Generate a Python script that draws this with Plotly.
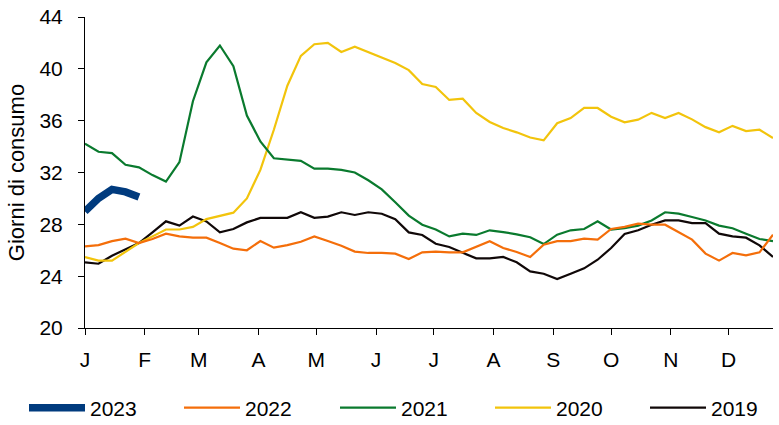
import plotly.graph_objects as go

# Weekly data (52 weeks), x = day of year at week start
weeks = list(range(52))
month_ticks_days = [0, 31, 59, 90, 120, 151, 181, 212, 243, 273, 304, 334]
month_labels = ["J", "F", "M", "A", "M", "J", "J", "A", "S", "O", "N", "D"]

y2023 = [29.0, 30.0, 30.7, 30.5, 30.1]

y2022 = [26.3, 26.4, 26.7, 26.9, 26.56, 26.87, 27.28, 27.07, 26.97, 26.97,
         26.56, 26.12, 26.0, 26.71, 26.2, 26.4, 26.66, 27.07, 26.71, 26.35,
         25.9, 25.79, 25.79, 25.74, 25.32, 25.84, 25.9, 25.84, 25.84, 26.3,
         26.7, 26.17, 25.87, 25.48, 26.43, 26.7, 26.7, 26.9, 26.82, 27.64,
         27.8, 28.05, 27.97, 27.97, 27.38, 26.82, 25.74, 25.2, 25.79, 25.6,
         25.84, 27.2]

y2021 = [34.23, 33.6, 33.5, 32.6, 32.4, 31.8, 31.3, 32.8, 37.5, 40.5,
         41.8, 40.2, 36.4, 34.4, 33.1, 33.0, 32.9, 32.3, 32.3, 32.2,
         32.0, 31.4, 30.7, 29.7, 28.67, 27.97, 27.6, 27.07, 27.28, 27.18,
         27.54, 27.4, 27.23, 27.0, 26.48, 27.2, 27.54, 27.64, 28.23, 27.6,
         27.7, 27.9, 28.3, 28.93, 28.82, 28.57, 28.3, 27.9, 27.7, 27.28,
         26.87, 26.7]

y2020 = [25.48, 25.2, 25.2, 25.9, 26.56, 27.07, 27.6, 27.6, 27.8, 28.4,
         28.67, 28.9, 30.0, 32.2, 35.3, 38.7, 41.0, 41.9, 42.0, 41.3,
         41.7, 41.3, 40.9, 40.45, 39.9, 38.83, 38.6, 37.6, 37.7, 36.6,
         35.9, 35.43, 35.1, 34.7, 34.48, 35.8, 36.2, 36.98, 36.98, 36.3,
         35.87, 36.08, 36.6, 36.2, 36.6, 36.1, 35.5, 35.1, 35.6, 35.2,
         35.3, 34.66]

y2019 = [25.07, 24.96, 25.58, 26.1, 26.56, 27.38, 28.23, 27.9, 28.6, 28.23,
         27.38, 27.64, 28.15, 28.5, 28.5, 28.5, 28.93, 28.5, 28.6, 28.93,
         28.72, 28.93, 28.82, 28.4, 27.38, 27.18, 26.5, 26.25, 25.8, 25.38,
         25.38, 25.48, 25.07, 24.37, 24.19, 23.78, 24.19, 24.6, 25.27, 26.17,
         27.25, 27.54, 27.97, 28.3, 28.3, 28.1, 28.1, 27.28, 27.07, 26.97,
         26.38, 25.48]

# name, values, colour, width, legend id, legend left (px)
series = [
    ("2019", y2019, "#100808", 2.2, "legend5", 645),
    ("2020", y2020, "#F2C40C", 2.2, "legend4", 490),
    ("2021", y2021, "#0A7A2E", 2.2, "legend3", 335),
    ("2022", y2022, "#F46E0A", 2.2, "legend2", 179),
    ("2023", y2023, "#003B7E", 7.5, "legend", 24),
]

days = [7 * w for w in weeks]
W, H = 779, 425

fig = go.Figure()
legend_layout = {}
for name, ys, color, width, leg, lx in series:
    fig.add_trace(go.Scatter(
        x=days[:len(ys)], y=ys, name=name, mode="lines",
        line=dict(color=color, width=width), legend=leg,
    ))
    legend_layout[leg] = dict(
        orientation="h", xref="container", yref="container",
        x=lx / W, xanchor="left", y=1 - 408 / H, yanchor="middle",
        itemwidth=56, font=dict(size=21), bgcolor="rgba(0,0,0,0)",
    )

font_family = "Liberation Sans, Arial, sans-serif"

fig.update_layout(
    width=W, height=H,
    margin=dict(l=85, r=6, t=17, b=97),
    paper_bgcolor="white", plot_bgcolor="white",
    font=dict(family=font_family, size=21, color="#000000"),
    showlegend=True,
    xaxis=dict(
        range=[0, 357], tickmode="array",
        tickvals=month_ticks_days, ticktext=month_labels,
        showline=True, linecolor="#000000", linewidth=1,
        ticks="outside", ticklen=6, tickcolor="#000000",
        showgrid=False, zeroline=False, automargin=False,
        ticklabelstandoff=7,
        tickfont=dict(size=21),
    ),
    yaxis=dict(
        range=[20, 44], tickmode="array",
        tickvals=[20, 24, 28, 32, 36, 40, 44],
        showline=True, linecolor="#000000", linewidth=1,
        ticks="outside", ticklen=6, tickcolor="#000000",
        showgrid=False, zeroline=False, automargin=False,
        ticklabelstandoff=11,
        tickfont=dict(size=21),
        title=dict(text="Giorni di consumo", font=dict(size=22), standoff=8),
    ),
    **legend_layout,
)

fig.write_html(
    "out.html",
    config={"displayModeBar": False},
    post_script="document.body.style.margin='0';document.body.style.overflow='hidden';",
)
